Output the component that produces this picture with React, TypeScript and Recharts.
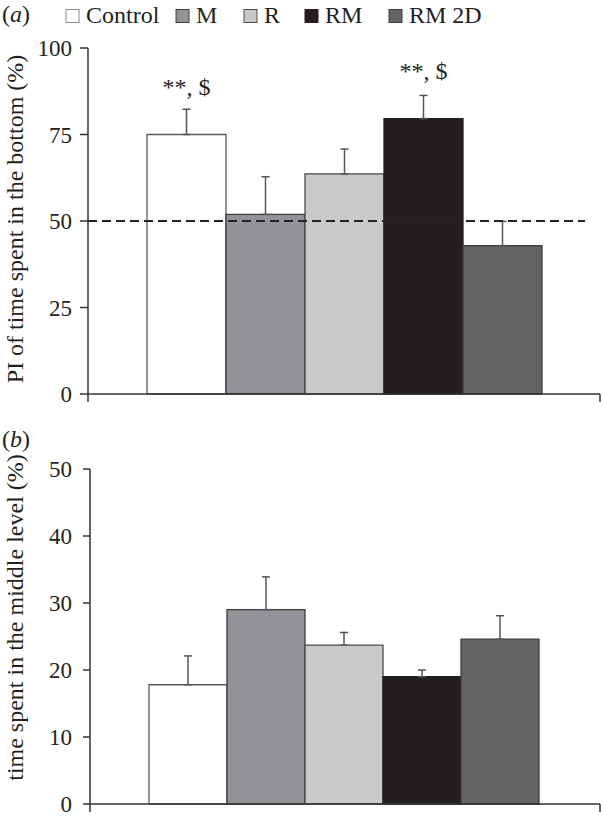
import React from "react";
import { BarChart, Bar, XAxis, YAxis, ErrorBar, ReferenceLine, Legend, LabelList, Label } from "recharts";

const groups = ["Control", "M", "R", "RM", "RM 2D"];
const bottomPI = [75, 51.9, 63.6, 79.6, 42.9];
const bottomSE = [7.3, 10.9, 7.2, 6.7, 7.0];
const bottomMarks = ["**, $", "", "", "**, $", ""];
const middleTime = [17.8, 29.0, 23.7, 19.0, 24.6];
const middleSE = [4.3, 4.9, 1.9, 1.0, 3.5];
const bottomTicks = [0, 25, 50, 75, 100];
const middleTicks = [0, 10, 20, 30, 40, 50];
const chanceLevel = 50;

const serif = '"Liberation Serif", "Times New Roman", serif';
const ink = "#231f20";
const axisInk = "#333";
const fills = ["#ffffff", "#929396", "#c8c9cb", "#231f20", "#636466"];
const strokes = ["#58595b", "#3d3d3f", "#4a4a4c", "#231f20", "#3d3d3f"];

function makeRows(vals: number[], errs: number[], marks: string[]) {
    const row: Record<string, any> = { panel: "all" };
    groups.forEach((_, i) => {
        row[`v${i}`] = vals[i];
        row[`e${i}`] = [0, errs[i]];
        row[`m${i}`] = marks[i];
    });
    return [row];
}

const legendSquare = [66, 176, 244, 305, 389];

function KeyBox() {
    return (
        <svg width={603} height={30} style={{ display: "block" }}>
            {groups.map((g, i) => (
                <g key={g}>
                    <rect x={legendSquare[i]} y={9.5} width={13} height={13} fill={fills[i]}
                        stroke={i === 0 ? "#8a8a8c" : strokes[i]} strokeWidth={1} />
                    <text x={legendSquare[i] + 20} y={23} fontSize={24} fontFamily={serif} fill={ink}>{g}</text>
                </g>
            ))}
        </svg>
    );
}

function Panel(props: {
    vals: number[]; errs: number[]; marks: string[]; ticks: number[];
    label: string; labelShift: number; height: number;
    margin: { top: number; right: number; bottom: number; left: number };
    axisWidth: number; tickSize: number; tickMargin: number;
    chance?: number; legend?: boolean;
}) {
    const rows = makeRows(props.vals, props.errs, props.marks);
    const top = props.ticks[props.ticks.length - 1];
    const plotW = 603 - props.margin.left - props.margin.right - props.axisWidth;
    return (
        <BarChart width={603} height={props.height} data={rows} margin={props.margin}
            barCategoryGap={59} barGap={0}>
            <XAxis dataKey="panel" height={1} tickLine={false} tickSize={0} tickMargin={0}
                axisLine={{ stroke: axisInk, strokeWidth: 1.5 }}
                tick={(p: any) => {
                    const half = (p.width || plotW) / 2;
                    return (
                        <g>
                            <line x1={p.x - half} x2={p.x - half} y1={p.y} y2={p.y + 8} stroke={axisInk} strokeWidth={1.5} />
                            <line x1={p.x + half} x2={p.x + half} y1={p.y} y2={p.y + 8} stroke={axisInk} strokeWidth={1.5} />
                        </g>
                    );
                }} />
            <YAxis type="number" domain={[0, top]} ticks={props.ticks} width={props.axisWidth}
                tickSize={props.tickSize} tickMargin={props.tickMargin}
                axisLine={{ stroke: axisInk, strokeWidth: 1.5 }}
                tickLine={{ stroke: axisInk, strokeWidth: 1.5 }}
                tick={(p: any) => (
                    <text x={p.x} y={p.y} dy="0.36em" textAnchor="end" fontSize={23}
                        fontFamily={serif} fill={ink}>{p.payload.value}</text>
                )}>
                <Label content={(p: any) => {
                    const vb = p.viewBox || { y: 0, height: 0 };
                    const cy = vb.y + vb.height / 2 + props.labelShift;
                    return (
                        <text x={15} y={cy} transform={`rotate(-90 15 ${cy})`} textAnchor="middle"
                            dominantBaseline="central" fontSize={24} fontFamily={serif} fill={ink}>
                            {props.label}
                        </text>
                    );
                }} />
            </YAxis>
            {props.legend && (
                <Legend layout="horizontal" verticalAlign="middle" align="center"
                    wrapperStyle={{ top: 0, left: 0, width: 603, height: 30 }} content={() => <KeyBox />} />
            )}
            {groups.map((g, i) => (
                <Bar key={g} dataKey={`v${i}`} name={g} fill={fills[i]} stroke={strokes[i]}
                    strokeWidth={1.3} isAnimationActive={false}>
                    <ErrorBar dataKey={`e${i}`} width={4} stroke="#555" strokeWidth={1.5} direction="y" />
                    <LabelList dataKey={`m${i}`} content={(p: any) => p.value ? (
                        <text x={p.x + p.width / 2} y={p.y - 40} textAnchor="middle" fontSize={24}
                            fontFamily={serif} fill={ink}>{p.value}</text>
                    ) : null} />
                </Bar>
            ))}
            {props.chance !== undefined && (
                <ReferenceLine y={props.chance} stroke="#222" strokeWidth={2} strokeDasharray="9 5"
                    shape={(p: any) => (
                        <line x1={p.x1} x2={p.x2 - 15} y1={p.y1} y2={p.y2} stroke="#222"
                            strokeWidth={2} strokeDasharray="9 5" />
                    )} />
            )}
        </BarChart>
    );
}

export default function App() {
    const tag = { position: "absolute" as const, left: 2, fontSize: 24, lineHeight: "24px", fontFamily: serif, color: ink };
    return (
        <div style={{ position: "absolute", left: 0, top: 0, width: 603, height: 817, background: "#fff" }}>
            <div style={{ position: "absolute", left: 0, top: 0 }}>
                <Panel vals={bottomPI} errs={bottomSE} marks={bottomMarks} ticks={bottomTicks}
                    label="PI of time spent in the bottom (%)" labelShift={-2} height={410}
                    margin={{ top: 48, right: 3, bottom: 15, left: 0 }} axisWidth={88}
                    tickSize={8} tickMargin={8} chance={chanceLevel} legend />
            </div>
            <div style={{ position: "absolute", left: 0, top: 440 }}>
                <Panel vals={middleTime} errs={middleSE} marks={["", "", "", "", ""]} ticks={middleTicks}
                    label="time spent in the middle level (%)" labelShift={-19} height={377}
                    margin={{ top: 29, right: 3, bottom: 12, left: 0 }} axisWidth={90}
                    tickSize={7} tickMargin={11} />
            </div>
            <div style={{ ...tag, top: 2 }}>(<i>a</i>)</div>
            <div style={{ ...tag, top: 427 }}>(<i>b</i>)</div>
        </div>
    );
}
